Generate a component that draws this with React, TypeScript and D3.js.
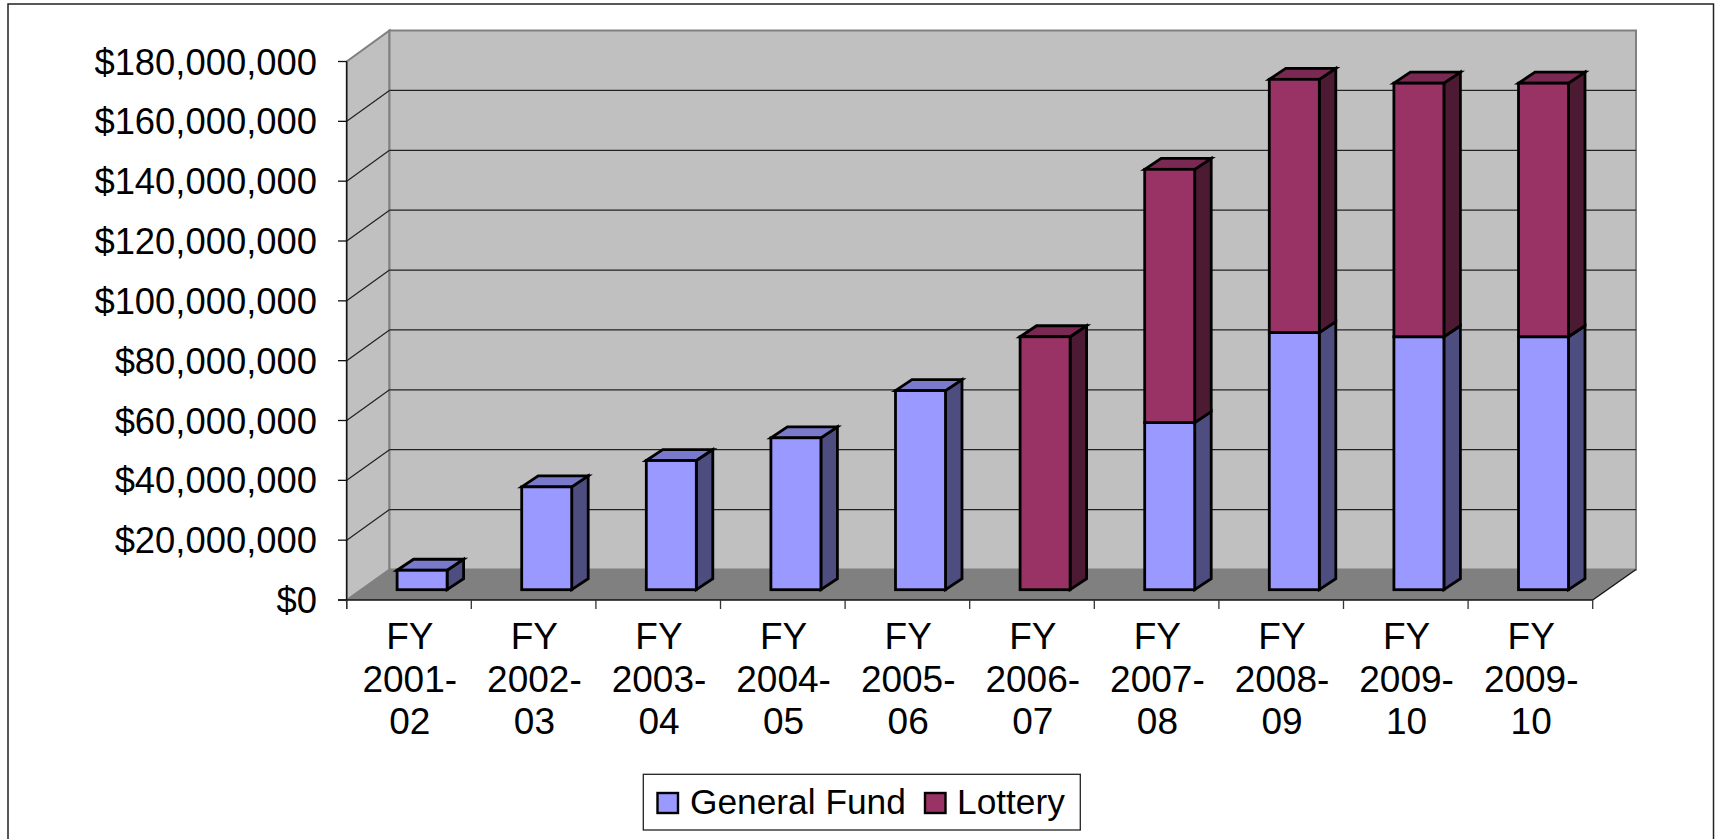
import React from "react";
import * as d3 from "d3";

const categories = ["2001-", "2002-", "2003-", "2004-", "2005-", "2006-", "2007-", "2008-", "2009-", "2009-"];
const categoryEnds = ["02", "03", "04", "05", "06", "07", "08", "09", "10", "10"];
const generalFund = [6.5, 34.4, 43.2, 50.8, 66.6, 0, 55.9, 86, 84.6, 84.6];
const lottery = [0, 0, 0, 0, 0, 84.6, 84.7, 84.7, 84.8, 84.8];
const yTicks = [0, 20, 40, 60, 80, 100, 120, 140, 160, 180];

const FONT = "'Liberation Sans', Arial, sans-serif";
const fmt = (m: number) => (m === 0 ? "$0" : "$" + d3.format(",")(m * 1e6));

const indices = categories.map((_, i) => i);
const xBand = d3.scaleBand<number>().domain(indices).range([346.7, 1592.7]);
const yFront = d3.scaleLinear().domain([0, 180]).range([600, 61.5]);
const yBack = d3.scaleLinear().domain([0, 180]).range([569.5, 30.5]);
const yBar = d3.scaleLinear().domain([0, 180]).range([589.7, 51.5]);

const BAR_OFFSET = 50.4;
const BAR_W = 50;
const DX = 16.5;
const DY = 11;
const wallL = 389.5;
const wallR = 1636;

const colors = {
  gf: { front: "#9999ff", top: "#7a7acc", side: "#4d4d80" },
  lo: { front: "#993366", top: "#7a2952", side: "#4d1a33" },
};

function Segment({ x, v0, v1, c, top }: { x: number; v0: number; v1: number; c: typeof colors.gf; top: boolean }) {
  const y0 = yBar(v0);
  const y1 = yBar(v1);
  const x1 = x + BAR_W;
  const poly = (pts: number[][]) => pts.map((p) => p.join(",")).join(" ");
  return (
    <g stroke="#000" strokeWidth={2.8} strokeLinejoin="miter">
      <polygon points={poly([[x1, y0], [x1 + DX, y0 - DY], [x1 + DX, y1 - DY], [x1, y1]])} fill={c.side} />
      {top && <polygon points={poly([[x, y1], [x + DX, y1 - DY], [x1 + DX, y1 - DY], [x1, y1]])} fill={c.top} />}
      <rect x={x} y={y1} width={BAR_W} height={y0 - y1} fill={c.front} />
    </g>
  );
}

export default function App() {
  return (
    <svg width={1719} height={839} style={{ position: "fixed", left: 0, top: 0, background: "#fff" }} fontFamily={FONT} fill="#000">
      <rect x={8} y={4} width={1705.5} height={860} fill="#fff" stroke="#222" strokeWidth={1.5} />

      {/* walls */}
      <polygon points={`${xBand.range()[0]},600 ${wallL},${yBack(0)} ${wallL},${yBack(180)} ${xBand.range()[0]},${yFront(180)}`} fill="#c0c0c0" stroke="#808080" strokeWidth={2} />
      <rect x={wallL} y={yBack(180)} width={wallR - wallL} height={yBack(0) - yBack(180)} fill="#c0c0c0" stroke="#808080" strokeWidth={2} />
      <polygon points={`346.7,600 1592.7,600 ${wallR},${yBack(0)} ${wallL},${yBack(0)}`} fill="#808080" />

      {/* gridlines */}
      {yTicks.slice(1, -1).map((t) => (
        <g key={t} stroke="#222" strokeWidth={1.2}>
          <line x1={346.7} y1={yFront(t)} x2={wallL} y2={yBack(t)} />
          <line x1={wallL} y1={yBack(t)} x2={wallR} y2={yBack(t)} />
        </g>
      ))}

      {/* axes */}
      <line x1={346.7} y1={yFront(180)} x2={346.7} y2={609} stroke="#111" strokeWidth={1.3} />
      <line x1={338} y1={600} x2={1592.7} y2={600} stroke="#111" strokeWidth={1.3} />
      <line x1={1592.7} y1={600} x2={wallR} y2={yBack(0)} stroke="#111" strokeWidth={1.3} />
      {yTicks.map((t) => (
        <g key={t}>
          <line x1={338} x2={346.7} y1={yFront(t)} y2={yFront(t)} stroke="#111" strokeWidth={1.3} />
          <text x={317} y={yFront(t) + 13} textAnchor="end" fontSize={36.4}>{fmt(t)}</text>
        </g>
      ))}
      {[...indices, 10].map((i) => {
        const x = i < 10 ? xBand(i)! : xBand.range()[1];
        return <line key={i} x1={x} x2={x} y1={600} y2={609} stroke="#333" strokeWidth={1.3} />;
      })}
      {indices.map((i) => {
        const cx = xBand(i)! + xBand.bandwidth() / 2 + 0.8;
        return (
          <text key={i} textAnchor="middle" fontSize={37}>
            <tspan x={cx} y={649}>FY</tspan>
            <tspan x={cx} y={692}>{categories[i]}</tspan>
            <tspan x={cx} y={734}>{categoryEnds[i]}</tspan>
          </text>
        );
      })}

      {/* bars */}
      {indices.map((i) => {
        const x = xBand(i)! + BAR_OFFSET;
        const g = generalFund[i];
        const l = lottery[i];
        return (
          <g key={i}>
            {g > 0 && <Segment x={x} v0={0} v1={g} c={colors.gf} top={l === 0} />}
            {l > 0 && <Segment x={x} v0={g} v1={g + l} c={colors.lo} top={true} />}
          </g>
        );
      })}

      {/* legend */}
      <rect x={643.3} y={774.3} width={437} height={55.7} fill="#fff" stroke="#222" strokeWidth={1.3} />
      <rect x={657.5} y={793} width={20.5} height={20} fill={colors.gf.front} stroke="#000" strokeWidth={2.4} />
      <text x={690} y={814} fontSize={35.3}>General Fund</text>
      <rect x={925} y={793} width={20.5} height={20} fill={colors.lo.front} stroke="#000" strokeWidth={2.4} />
      <text x={957} y={814} fontSize={35.3}>Lottery</text>
    </svg>
  );
}
